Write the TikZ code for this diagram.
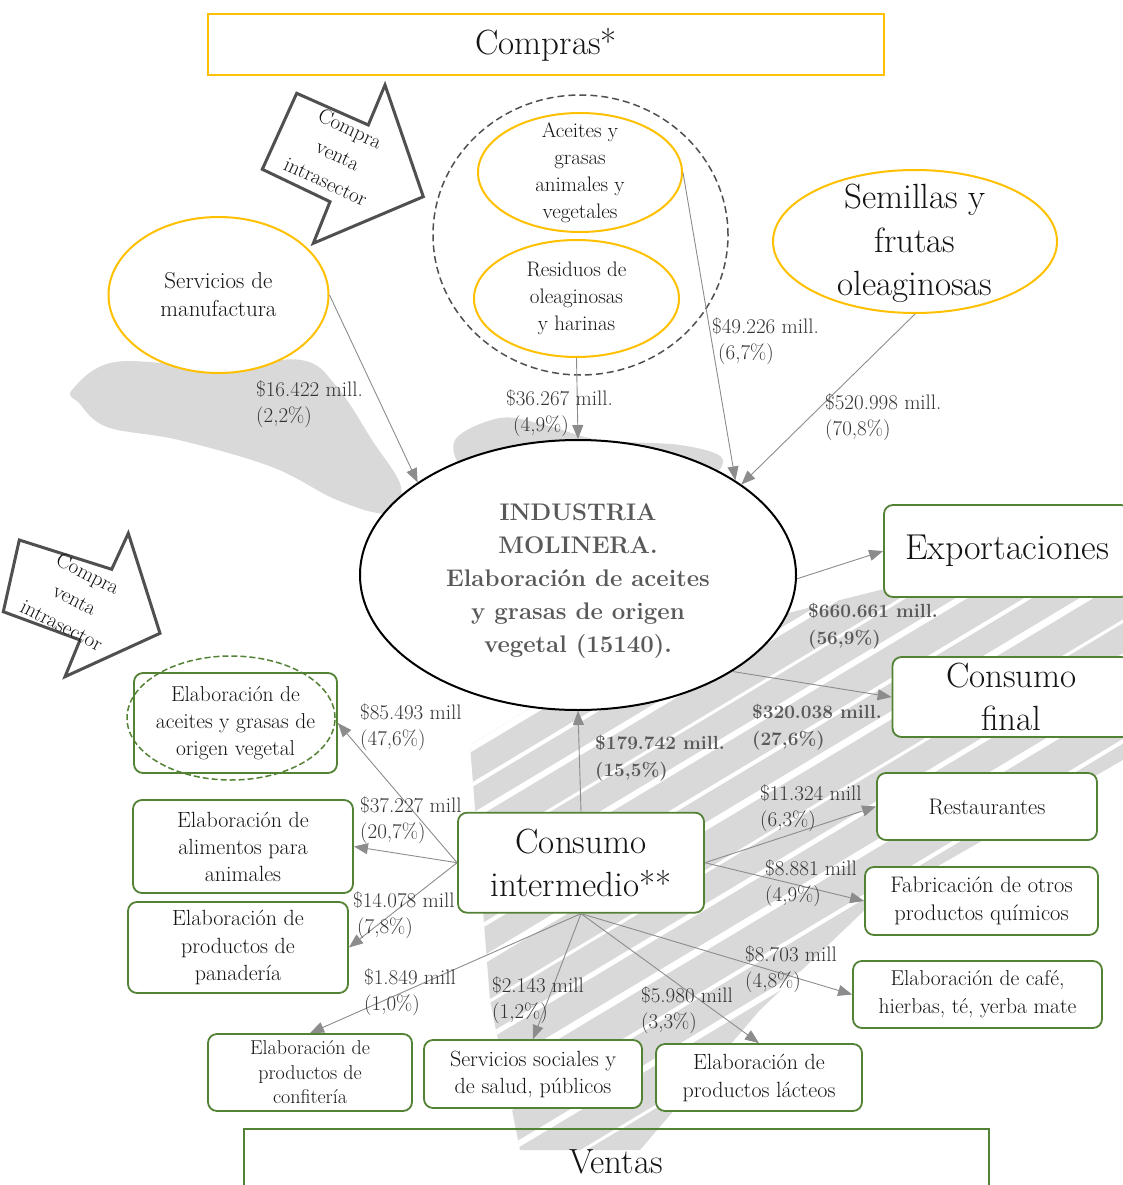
\documentclass[tikz,border=0pt]{standalone}
\usetikzlibrary{shapes.geometric,arrows.meta}
\newcommand\myfs[2]{\fontsize{#1pt}{#2pt}\selectfont}
\definecolor{yelc}{HTML}{FFC000}
\definecolor{grnc}{HTML}{548235}
\definecolor{lblc}{HTML}{333333}
\definecolor{boldc}{HTML}{595959}
\definecolor{arrc}{HTML}{8C8C8C}
\definecolor{bgc}{HTML}{D9D9D9}
\definecolor{darkc}{HTML}{505050}
\definecolor{txtc}{HTML}{141414}
\begin{document}
\begin{tikzpicture}[x=1pt,y=-1pt,
  yell/.style={ellipse, draw=yelc, line width=2pt, fill=white, inner sep=0pt},
  gbox/.style={rectangle, rounded corners=9pt, draw=grnc, line width=1.8pt, fill=white, inner sep=0pt, align=center, text=txtc},
  flow/.style={draw=arrc, line width=0.9pt, -{Triangle[width=11pt,length=14pt]}},
  flowlbl/.style={anchor=west, align=left, inner sep=0pt, text=lblc, font=\myfs{21}{26}},
  boldlbl/.style={anchor=west, align=left, inner sep=0pt, text=boldc, font=\myfs{19}{27}\bfseries},
  etxt/.style={align=center, inner sep=0pt, text=txtc},
  blockarr/.style={draw=darkc, line width=3pt, fill=white, line join=miter},
  rottxt/.style={inner sep=0pt, align=center, text=txtc, font=\myfs{21}{29}}
]
\useasboundingbox (0,0) rectangle (1123,1185);

% ---------- background watermark ----------
\fill[bgc] plot[smooth cycle, tension=0.6] coordinates {(72,390) (115,362) (215,367) (301,360) (337,387) (372,440) (401,487) (387,513) (337,500) (272,467) (179,440) (107,427) (79,403)};
\fill[bgc] plot[smooth cycle, tension=0.6] coordinates {(455,440) (500,418) (545,425) (600,440) (680,445) (722,458) (700,478) (600,472) (540,470) (470,472)};
\begin{scope}
\clip (470,745) -- (560,690) -- (760,620) -- (1000,560) -- (1123,540) -- (1123,760) -- (870,905) -- (760,1010) -- (640,1150) -- (520,1150) -- (490,1000) -- cycle;
\fill[bgc] (400,500) rectangle (1123,1185);
\foreach \o/\w in {700/5,735/7,762/3,790/8,828/4,860/6,900/3,935/6,975/4,1010/7,1055/3,1090/5,1130/7,1175/4,1215/6,1260/3,1300/5}
  \draw[white, line width=\w pt] (400,\o) -- ++(900,-540);
\end{scope}

% ---------- top box ----------
\node[draw=yelc, line width=2.2pt, minimum width=676pt, minimum height=61pt, inner sep=0pt, text=txtc, font=\myfs{35}{40}] (compras) at (546,44.5) {Compras*};

% ---------- block arrows ----------
\draw[blockarr] (296.7,93.3) -- (368.3,125) -- (385,85) -- (423.3,196.7) -- (313.3,243.3) -- (330,201.7) -- (262.3,169.3) -- cycle;
\node[rottxt, rotate=-25] (cv1) at (338,155) {Compra\\venta\\intrasector};

\draw[blockarr] (19.3,540) -- (111.7,569.3) -- (128.3,533.3) -- (160,633.3) -- (65,676.7) -- (80,640) -- (3.3,611.7) -- cycle;
\node[rottxt, rotate=-27] (cv2) at (75,599) {Compra\\venta\\intrasector};

% ---------- input ellipses ----------
\node[yell, minimum width=220pt, minimum height=156pt] (serv) at (218.5,295) {};
\node[etxt, font=\myfs{23}{28}] (servt) at (serv.center) {Servicios de\\manufactura};

\node[ellipse, draw=darkc, dash pattern=on 7pt off 4pt, line width=1.5pt, minimum width=295pt, minimum height=280pt, inner sep=0pt] (grp) at (580.5,235) {};
\node[yell, minimum width=204pt, minimum height=119pt] (ace) at (580,172.5) {};
\node[etxt, font=\myfs{21}{27}] (acet) at (ace.center) {Aceites y\\grasas\\animales y\\vegetales};
\node[yell, minimum width=205pt, minimum height=117pt] (res) at (576.5,298.5) {};
\node[etxt, font=\myfs{21}{27}] (rest) at (res.center) {Residuos de\\oleaginosas\\y harinas};

\node[yell, minimum width=284pt, minimum height=143pt] (sem) at (915,241.5) {};
\node[etxt, font=\myfs{35}{43.5}] (semt) at (915,243.5) {Semillas y\\frutas\\oleaginosas};

% ---------- central ellipse ----------
\node[ellipse, draw=black, line width=2pt, fill=white, minimum width=436pt, minimum height=270pt, inner sep=0pt] (ind) at (578,575) {};
\node[etxt, text=boldc, font=\myfs{24}{33}\bfseries] (indt) at (578,581) {INDUSTRIA\\MOLINERA.\\Elaboración de aceites\\y grasas de origen\\vegetal (15140).};

% ---------- output boxes ----------
\node[gbox, minimum width=246pt, minimum height=92pt, font=\myfs{36}{40}] (exp) at (1007,551) {Exportaciones};
\node[gbox, minimum width=238pt, minimum height=80pt, font=\myfs{35}{43}] (cfin) at (1011.5,697) {Consumo\\final};
\node[gbox, minimum width=246pt, minimum height=100pt, font=\myfs{35}{43}] (ci) at (581,862.7) {Consumo\\intermedio**};

\node[gbox, minimum width=203pt, minimum height=100pt, font=\myfs{21.5}{27}] (b15) at (235.5,723) {Elaboración de\\aceites y grasas de\\origen vegetal};
\node[ellipse, draw=grnc, line width=1.5pt, dash pattern=on 6pt off 3pt, minimum width=208pt, minimum height=124pt, inner sep=0pt] (b15e) at (231,718) {};
\node[gbox, minimum width=220pt, minimum height=93pt, font=\myfs{22}{27}] (alim) at (243,846.5) {Elaboración de\\alimentos para\\animales};
\node[gbox, minimum width=220pt, minimum height=91pt, font=\myfs{22}{27.5}] (pan) at (238,947.5) {Elaboración de\\productos de\\panadería};
\node[gbox, minimum width=204pt, minimum height=77pt, font=\myfs{20}{24.5}] (conf) at (310,1072.5) {Elaboración de\\productos de\\confitería};
\node[gbox, minimum width=218pt, minimum height=68pt, font=\myfs{22}{27}] (soc) at (533,1074) {Servicios sociales y\\de salud, públicos};
\node[gbox, minimum width=206pt, minimum height=67pt, font=\myfs{22}{28}] (lac) at (759,1077.5) {Elaboración de\\productos lácteos};
\node[gbox, minimum width=220pt, minimum height=67pt, font=\myfs{22.5}{27}] (rstr) at (987,806.5) {Restaurantes};
\node[gbox, minimum width=233pt, minimum height=68pt, font=\myfs{22.5}{28}] (fab) at (981.5,901) {Fabricación de otros\\productos químicos};
\node[gbox, minimum width=249pt, minimum height=67pt, font=\myfs{21.5}{28}] (cafe) at (977.5,994.5) {Elaboración de café,\\hierbas, té, yerba mate};

\node[draw=grnc, line width=2pt, minimum width=745pt, minimum height=80pt, inner sep=0pt] (ventas) at (616.5,1169) {};
\node[etxt, font=\myfs{35}{40}] (ventast) at (616,1162) {Ventas};

% ---------- connectors ----------
\draw[flow] (serv.east) -- (ind.150);
\draw[flow] (res.south) -- (ind.north);
\draw[flow] (ace.east) -- (ind.31);
\draw[flow] (sem.south) -- (ind.29);
\draw[flow] (ind.-1) -- (exp.west);
\draw[flow] (ind.-32) -- (cfin.west);
\draw[flow] (ci.north) -- (ind.south);
\draw[flow] (ci.west) -- (b15.east);
\draw[flow] (ci.west) -- (alim.east);
\draw[flow] (ci.west) -- (pan.east);
\draw[flow] (ci.east) -- (rstr.west);
\draw[flow] (ci.east) -- (fab.west);
\draw[flow] (ci.south) -- (cafe.west);
\draw[flow] (ci.south) -- (lac.north);
\draw[flow] (ci.south) -- (soc.north);
\draw[flow] (ci.south) -- (conf.north);

% ---------- labels ----------
\node[flowlbl] (l1) at (256,404.5) {\$16.422 mill.\\(2,2\%)};
\node[flowlbl] (l2) at (506,413.5) {\$36.267 mill.\\\hspace*{7pt}(4,9\%)};
\node[flowlbl] (l3) at (712,341) {\$49.226 mill.\\\hspace*{6pt}(6,7\%)};
\node[flowlbl] (l4) at (825,417) {\$520.998 mill.\\(70,8\%)};
\node[boldlbl] (l5) at (808,626.5) {\$660.661 mill.\\(56,9\%)};
\node[boldlbl] (l6) at (752,727.5) {\$320.038 mill.\\(27,6\%)};
\node[boldlbl] (l7) at (595,758.5) {\$179.742 mill.\\(15,5\%)};
\node[flowlbl] (l8) at (360,727) {\$85.493 mill\\(47,6\%)};
\node[flowlbl] (l9) at (360,820.5) {\$37.227 mill\\(20,7\%)};
\node[flowlbl] (l10) at (353,915) {\$14.078 mill\\\hspace*{4pt}(7,8\%)};
\node[flowlbl] (l11) at (760,808) {\$11.324 mill\\(6,3\%)};
\node[flowlbl] (l12) at (765,883.5) {\$8.881 mill\\(4,9\%)};
\node[flowlbl] (l13) at (745,969.5) {\$8.703 mill\\(4,8\%)};
\node[flowlbl] (l14) at (641,1010) {\$5.980 mill\\(3,3\%)};
\node[flowlbl] (l15) at (492,1000) {\$2.143 mill\\(1,2\%)};
\node[flowlbl] (l16) at (364,992.5) {\$1.849 mill\\(1,0\%)};
\end{tikzpicture}
\end{document}
